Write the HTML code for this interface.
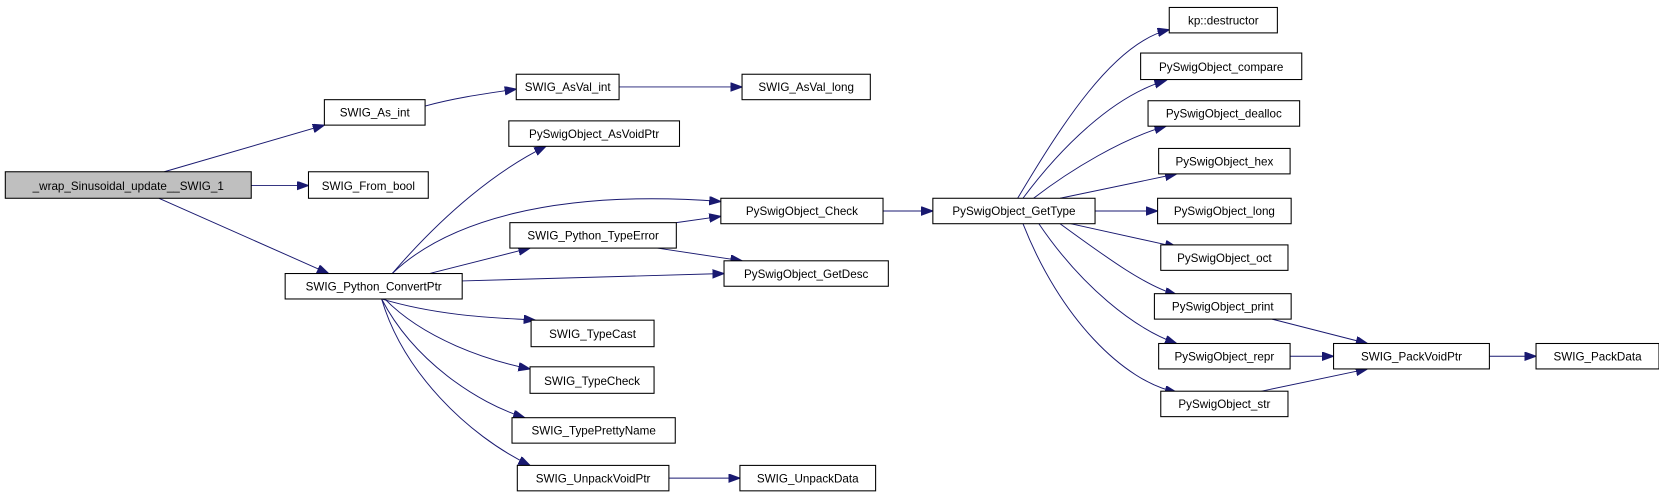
<!DOCTYPE html>
<html><head><meta charset="utf-8"><style>
html,body{margin:0;padding:0;background:#fff;}
svg{display:block;}
text{font-family:"Liberation Sans",Arial,sans-serif;font-size:11px;fill:#000;}
rect{fill:#fff;stroke:#000;stroke-width:1;}
path{fill:none;stroke:#191970;stroke-width:0.9;}
</style></head><body>
<svg width="1659" height="493" viewBox="0 0 1565 465" xmlns="http://www.w3.org/2000/svg">
<defs><marker id="a" markerUnits="userSpaceOnUse" markerWidth="14" markerHeight="10" refX="11" refY="4" orient="auto"><polygon points="0,0 11,4 0,8" fill="#191970" stroke="#191970"/></marker></defs>
<g marker-end="url(#a)">
<path d="M155,162 L306,118"/>
<path d="M237,175 L291,175"/>
<path d="M150,187 L310,258"/>
<path d="M401,100 C430,92 460,88 487,84"/>
<path d="M584,82 L700,82"/>
<path d="M370,258 C420,200 470,160 515,138"/>
<path d="M370,258 C420,210 520,178 680,190"/>
<path d="M405,258 L500,234"/>
<path d="M436,265 L683,258"/>
<path d="M360,282 C420,300 480,300 505,302"/>
<path d="M363,282 C400,320 460,340 500,348"/>
<path d="M360,282 C390,340 450,380 495,394"/>
<path d="M360,282 C380,350 440,410 500,439"/>
<path d="M638,210 L680,204"/>
<path d="M620,234 L700,246"/>
<path d="M631,451 L698,451"/>
<path d="M833,199 L880,199"/>
<path d="M960,187 C1000,120 1050,40 1103,28"/>
<path d="M965,187 C1000,140 1050,90 1100,76"/>
<path d="M975,187 C1010,160 1060,130 1100,119"/>
<path d="M1000,187 L1110,164"/>
<path d="M1033,199 L1092,199"/>
<path d="M1010,211 L1110,233"/>
<path d="M1000,211 C1040,240 1080,270 1110,278"/>
<path d="M980,211 C1020,270 1070,310 1110,324"/>
<path d="M965,211 C1000,300 1060,360 1110,370"/>
<path d="M1200,301 L1290,324"/>
<path d="M1217,336 L1258,336"/>
<path d="M1190,369 L1290,348"/>
<path d="M1405,336 L1449,336"/>
</g>
<g>
<rect x="5" y="162" width="232" height="25" style="fill:#bfbfbf"/><text x="121" y="179" text-anchor="middle">_wrap_Sinusoidal_update__SWIG_1</text>
<rect x="306" y="94" width="95" height="24"/><text x="353.5" y="110" text-anchor="middle">SWIG_As_int</text>
<rect x="291" y="162" width="113" height="25"/><text x="347.5" y="179" text-anchor="middle">SWIG_From_bool</text>
<rect x="269" y="258" width="167" height="24"/><text x="352.5" y="274" text-anchor="middle">SWIG_Python_ConvertPtr</text>
<rect x="487" y="70" width="97" height="24"/><text x="535.5" y="86" text-anchor="middle">SWIG_AsVal_int</text>
<rect x="700" y="70" width="121" height="24"/><text x="760.5" y="86" text-anchor="middle">SWIG_AsVal_long</text>
<rect x="480" y="114" width="161" height="24"/><text x="560.5" y="130" text-anchor="middle">PySwigObject_AsVoidPtr</text>
<rect x="680" y="187" width="153" height="24"/><text x="756.5" y="203" text-anchor="middle">PySwigObject_Check</text>
<rect x="481" y="210" width="157" height="24"/><text x="559.5" y="226" text-anchor="middle">SWIG_Python_TypeError</text>
<rect x="683" y="246" width="155" height="24"/><text x="760.5" y="262" text-anchor="middle">PySwigObject_GetDesc</text>
<rect x="501" y="302" width="116" height="25"/><text x="559" y="319" text-anchor="middle">SWIG_TypeCast</text>
<rect x="500" y="346" width="117" height="25"/><text x="558.5" y="363" text-anchor="middle">SWIG_TypeCheck</text>
<rect x="483" y="394" width="154" height="24"/><text x="560" y="410" text-anchor="middle">SWIG_TypePrettyName</text>
<rect x="488" y="439" width="143" height="24"/><text x="559.5" y="455" text-anchor="middle">SWIG_UnpackVoidPtr</text>
<rect x="698" y="439" width="128" height="24"/><text x="762" y="455" text-anchor="middle">SWIG_UnpackData</text>
<rect x="880" y="187" width="153" height="24"/><text x="956.5" y="203" text-anchor="middle">PySwigObject_GetType</text>
<rect x="1103" y="7" width="102" height="24"/><text x="1154" y="23" text-anchor="middle">kp::destructor</text>
<rect x="1076" y="50" width="152" height="25"/><text x="1152" y="67" text-anchor="middle">PySwigObject_compare</text>
<rect x="1083" y="95" width="143" height="24"/><text x="1154.5" y="111" text-anchor="middle">PySwigObject_dealloc</text>
<rect x="1093" y="140" width="124" height="24"/><text x="1155" y="156" text-anchor="middle">PySwigObject_hex</text>
<rect x="1092" y="187" width="126" height="24"/><text x="1155" y="203" text-anchor="middle">PySwigObject_long</text>
<rect x="1095" y="231" width="120" height="24"/><text x="1155" y="247" text-anchor="middle">PySwigObject_oct</text>
<rect x="1089" y="277" width="129" height="24"/><text x="1153.5" y="293" text-anchor="middle">PySwigObject_print</text>
<rect x="1093" y="324" width="124" height="24"/><text x="1155" y="340" text-anchor="middle">PySwigObject_repr</text>
<rect x="1095" y="369" width="120" height="24"/><text x="1155" y="385" text-anchor="middle">PySwigObject_str</text>
<rect x="1258" y="324" width="147" height="24"/><text x="1331.5" y="340" text-anchor="middle">SWIG_PackVoidPtr</text>
<rect x="1449" y="324" width="116" height="24"/><text x="1507" y="340" text-anchor="middle">SWIG_PackData</text>
</g>
</svg>
</body></html>
